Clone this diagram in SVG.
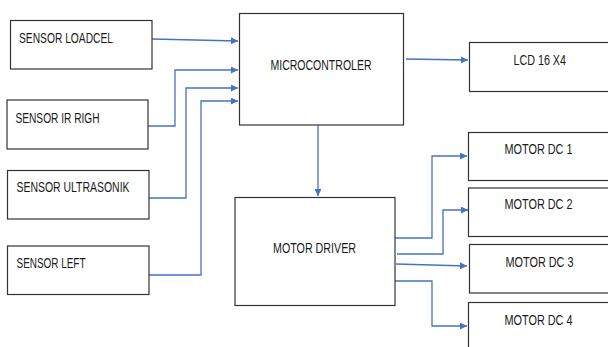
<svg xmlns="http://www.w3.org/2000/svg" width="608" height="347" viewBox="0 0 608 347">
<style>
.box{fill:#fff;stroke:#333;stroke-width:1.2}
.t{font-family:"Liberation Sans",Arial,sans-serif;font-size:14px;fill:#1a1a1a}
.c{fill:none;stroke:#4472C4;stroke-width:1.3;marker-end:url(#ah)}
</style>
<defs>
<marker id="ah" viewBox="0 0 10 10" refX="10" refY="5" markerWidth="7" markerHeight="7" markerUnits="userSpaceOnUse" orient="auto"><path d="M0,0 L10,5 L0,10 z" fill="#4472C4"/></marker>
</defs>
<rect width="608" height="347" fill="#fff"/>
<g id="connectors">
<path class="c" d="M152,39 L238,41"/>
<path class="c" d="M148,126 H175 V70 H238"/>
<path class="c" d="M149,198 H186 V88 H238"/>
<path class="c" d="M149,275 H201 V101 H238"/>
<path class="c" d="M406,59 L468,60"/>
<path class="c" d="M318,125 V196"/>
<path class="c" d="M395,238 H432 V156 H467"/>
<path class="c" d="M397,254 H443 V210 H468"/>
<path class="c" d="M396,264 L467,266"/>
<path class="c" d="M395,281 H432 V326 H467"/>
</g>
<g id="sensor-loadcel"><rect class="box" x="10.5" y="20.5" width="141.5" height="48.5"/><text class="t" x="19" y="42.5" textLength="94" lengthAdjust="spacingAndGlyphs">SENSOR LOADCEL</text></g>
<g id="sensor-ir-righ"><rect class="box" x="7" y="100" width="141" height="49"/><text class="t" x="15.5" y="122.5" textLength="84" lengthAdjust="spacingAndGlyphs">SENSOR IR RIGH</text></g>
<g id="sensor-ultrasonik"><rect class="box" x="7.5" y="170.5" width="141.5" height="48.5"/><text class="t" x="16.5" y="192" textLength="113" lengthAdjust="spacingAndGlyphs">SENSOR ULTRASONIK</text></g>
<g id="sensor-left"><rect class="box" x="7.5" y="246" width="141.5" height="48.5"/><text class="t" x="16.5" y="267.5" textLength="69" lengthAdjust="spacingAndGlyphs">SENSOR LEFT</text></g>
<g id="microcontroler"><rect class="box" x="239.5" y="13.5" width="164" height="111.5"/><text class="t" x="270.5" y="70" textLength="101" lengthAdjust="spacingAndGlyphs">MICROCONTROLER</text></g>
<g id="lcd"><rect class="box" x="469.5" y="42.5" width="145" height="49"/><text class="t" x="513.5" y="65" textLength="52.5" lengthAdjust="spacingAndGlyphs">LCD 16 X4</text></g>
<g id="motor-driver"><rect class="box" x="235" y="197.5" width="160" height="108"/><text class="t" x="273" y="253" textLength="83" lengthAdjust="spacingAndGlyphs">MOTOR DRIVER</text></g>
<g id="motor-dc-1"><rect class="box" x="468.5" y="132.5" width="145" height="48"/><text class="t" x="504.5" y="154" textLength="68" lengthAdjust="spacingAndGlyphs">MOTOR DC 1</text></g>
<g id="motor-dc-2"><rect class="box" x="468.5" y="188" width="145" height="48.5"/><text class="t" x="504.5" y="209" textLength="68" lengthAdjust="spacingAndGlyphs">MOTOR DC 2</text></g>
<g id="motor-dc-3"><rect class="box" x="469.5" y="244.5" width="145" height="48.5"/><text class="t" x="505.5" y="266.5" textLength="68" lengthAdjust="spacingAndGlyphs">MOTOR DC 3</text></g>
<g id="motor-dc-4"><rect class="box" x="468.5" y="302.5" width="145" height="60"/><text class="t" x="504.5" y="324.5" textLength="68" lengthAdjust="spacingAndGlyphs">MOTOR DC 4</text></g>
</svg>
